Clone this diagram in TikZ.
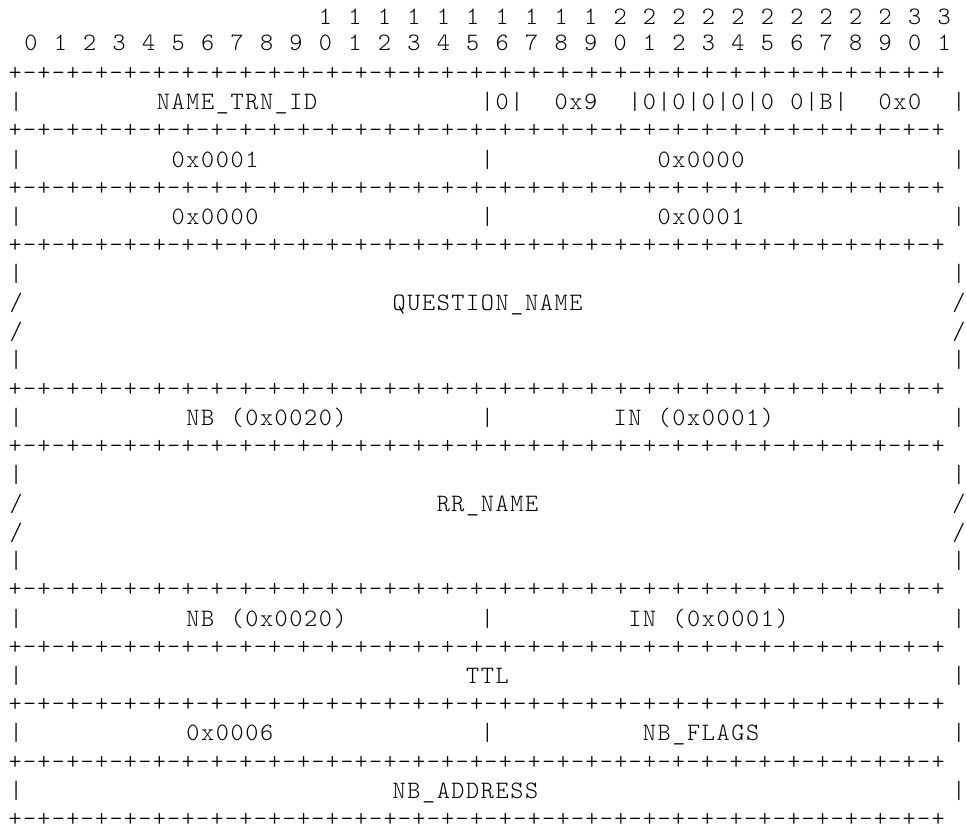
\documentclass[tikz,border=0pt]{standalone}
\usepackage{fontspec}
\setmonofont{lmmonolt10-regular.otf}
\newlength\cw
\newcommand\cell[1]{\makebox[\cw]{#1}}
\newcommand\sk[1]{\kern#1\cw}
\def\wend{\wend}
\def\w#1{\wl#1\wend}
\def\wl#1{\ifx#1\wend\else\cell{#1}\expandafter\wl\fi}
\def\hd#1{\hl#1\wend}
\def\hl#1{\ifx#1\wend\else\cell{#1}\kern\cw\expandafter\hl\fi}
\def\pp{\cell{-}\cell{+}}
\def\pq{\pp\pp\pp\pp\pp\pp\pp\pp}
\def\pl{\cell{+}\pq\pq\pq\pq}
\newcommand\tb[1]{81+(#1-3)*28.69}
\newcommand\pb[1]{80.5+(#1-3)*28.69}
\tikzset{
  txt/.style={anchor=base west, inner sep=0pt, text=black,
    font={\ttfamily\fontsize{25pt}{30pt}\selectfont\cw=14.73pt\relax}},
  pls/.style={anchor=base west, inner sep=0pt, text=black,
    font={\ttfamily\fontsize{25pt}{30pt}\selectfont\cw=14.42pt\relax}},
}
\begin{document}
\begin{tikzpicture}[x=1pt,y=-1pt]
\fill[white] (0,0) rectangle (966,831);
\useasboundingbox (0,0) rectangle (966,831);
% header
\node[txt] (l1) at (8.6,24.5) {\sk{21}\hd{1111111111222222222233}};
\node[txt] (l2) at (8.6,50.5) {\sk{1}\hd{01234567890123456789012345678901}};
% rows
\node[pls] (l3) at (7.8,{\pb{3}}) {\pl};
\node[txt] (l4) at (8.6,{\tb{4}}) {\cell{|}\sk{9}\w{NAME\_TRN\_ID}\sk{11}\w{|0|}\sk{2}\w{0x9}\sk{2}\w{|0|0|0|0|0}\sk{1}\w{0|B|}\sk{2}\w{0x0}\sk{2}\cell{|}};
\node[pls] (l5) at (7.8,{\pb{5}}) {\pl};
\node[txt] (l6) at (8.6,{\tb{6}}) {\cell{|}\sk{10}\w{0x0001}\sk{15}\cell{|}\sk{11}\w{0x0000}\sk{14}\cell{|}};
\node[pls] (l7) at (7.8,{\pb{7}}) {\pl};
\node[txt] (l8) at (8.6,{\tb{8}}) {\cell{|}\sk{10}\w{0x0000}\sk{15}\cell{|}\sk{11}\w{0x0001}\sk{14}\cell{|}};
\node[pls] (l9) at (7.8,{\pb{9}}) {\pl};
\node[txt] (l10) at (8.6,{\tb{10}}) {\cell{|}\sk{63}\cell{|}};
\node[txt] (l11) at (8.6,{\tb{11}}) {\cell{/}\sk{25}\w{QUESTION\_NAME}\sk{25}\cell{/}};
\node[txt] (l12) at (8.6,{\tb{12}}) {\cell{/}\sk{63}\cell{/}};
\node[txt] (l13) at (8.6,{\tb{13}}) {\cell{|}\sk{63}\cell{|}};
\node[pls] (l14) at (7.8,{\pb{14}}) {\pl};
\node[txt] (l15) at (8.6,{\tb{15}}) {\cell{|}\sk{11}\w{NB}\sk{1}\w{(0x0020)}\sk{9}\cell{|}\sk{8}\w{IN}\sk{1}\w{(0x0001)}\sk{12}\cell{|}};
\node[pls] (l16) at (7.8,{\pb{16}}) {\pl};
\node[txt] (l17) at (8.6,{\tb{17}}) {\cell{|}\sk{63}\cell{|}};
\node[txt] (l18) at (8.6,{\tb{18}}) {\cell{/}\sk{28}\w{RR\_NAME}\sk{28}\cell{/}};
\node[txt] (l19) at (8.6,{\tb{19}}) {\cell{/}\sk{63}\cell{/}};
\node[txt] (l20) at (8.6,{\tb{20}}) {\cell{|}\sk{63}\cell{|}};
\node[pls] (l21) at (7.8,{\pb{21}}) {\pl};
\node[txt] (l22) at (8.6,{\tb{22}}) {\cell{|}\sk{11}\w{NB}\sk{1}\w{(0x0020)}\sk{9}\cell{|}\sk{9}\w{IN}\sk{1}\w{(0x0001)}\sk{11}\cell{|}};
\node[pls] (l23) at (7.8,{\pb{23}}) {\pl};
\node[txt] (l24) at (8.6,{\tb{24}}) {\cell{|}\sk{30}\w{TTL}\sk{30}\cell{|}};
\node[pls] (l25) at (7.8,{\pb{25}}) {\pl};
\node[txt] (l26) at (8.6,{\tb{26}}) {\cell{|}\sk{11}\w{0x0006}\sk{14}\cell{|}\sk{10}\w{NB\_FLAGS}\sk{13}\cell{|}};
\node[pls] (l27) at (7.8,{\pb{27}}) {\pl};
\node[txt] (l28) at (8.6,{\tb{28}}) {\cell{|}\sk{25}\w{NB\_ADDRESS}\sk{28}\cell{|}};
\node[pls] (l29) at (7.8,{\pb{29}}) {\pl};
\end{tikzpicture}
\end{document}
